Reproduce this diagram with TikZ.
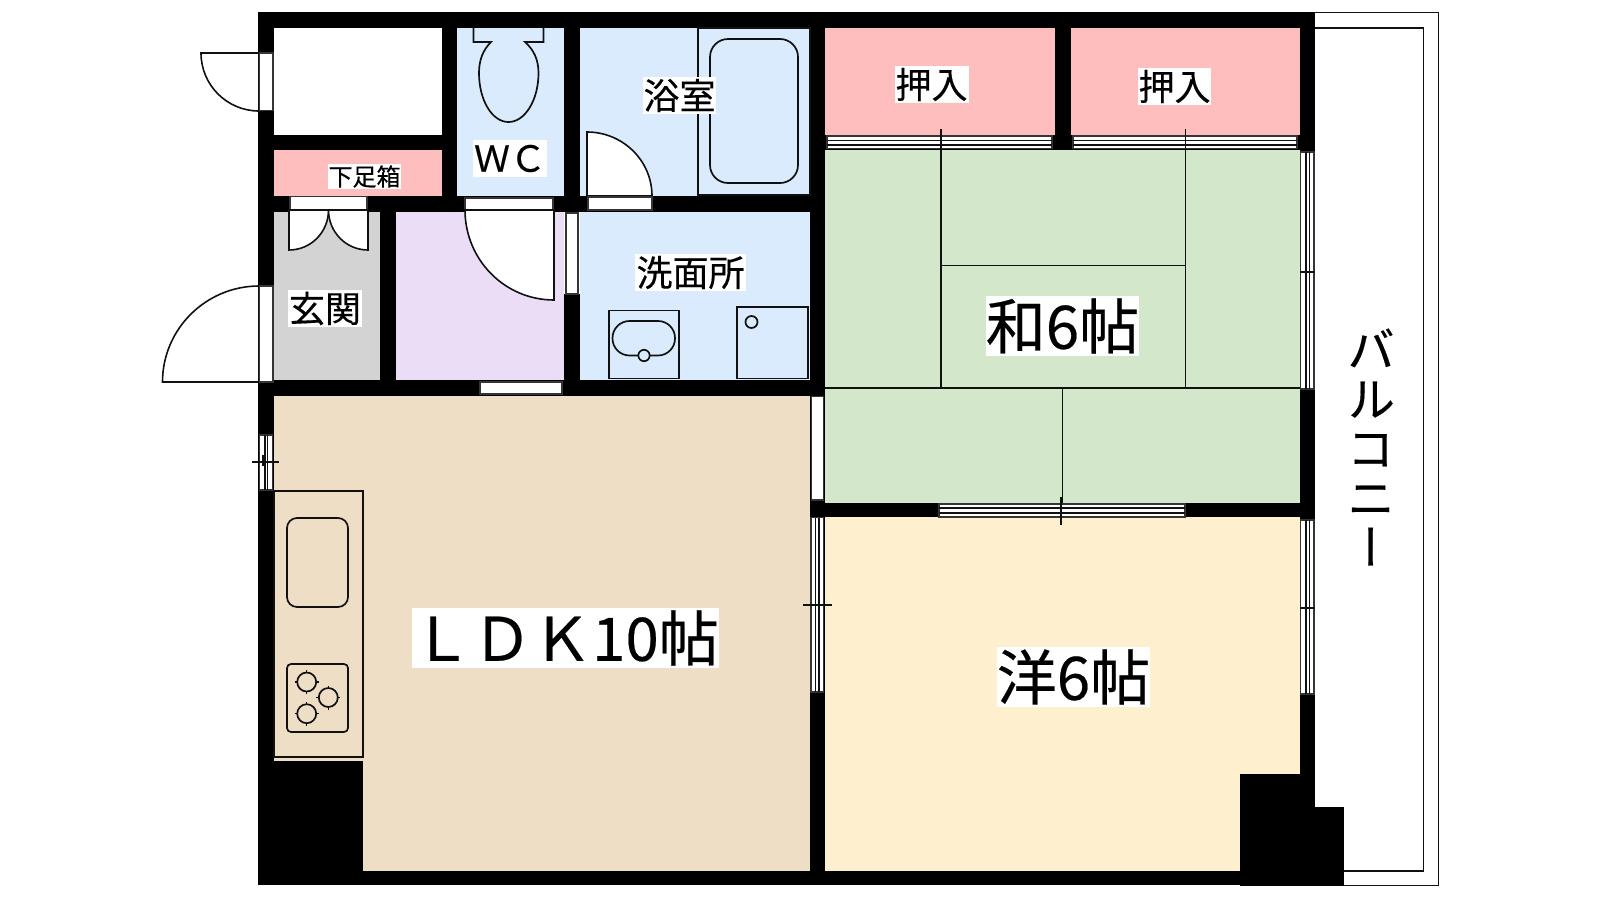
\documentclass[tikz,border=0pt]{standalone}
\usepackage{fontspec}
\setmainfont[FakeBold=0.35]{Noto Sans CJK JP}
\newfontfamily\jpv[RawFeature={+vert},FakeBold=0.35]{Noto Sans CJK JP}
\definecolor{cblue}{HTML}{DAEBFE}
\definecolor{cpink}{HTML}{FFBEBE}
\definecolor{cgreen}{HTML}{D3E8CB}
\definecolor{ccream}{HTML}{FEF0CF}
\definecolor{ctan}{HTML}{EEDEC6}
\definecolor{cpurple}{HTML}{ECDDF6}
\definecolor{cgray}{HTML}{D3D3D3}
\definecolor{cline}{HTML}{111111}
\tikzset{
  thin line/.style={draw=cline,line width=1.5pt},
  fixture/.style={draw=cline,line width=1.7pt},
  door/.style={draw=cline,fill=white,line width=1.6pt},
  winbox/.style={draw=cline!85!white,fill=white,line width=1.5pt},
  tatami/.style={draw=cline,line width=1.8pt},
  lab/.style={fill=white,inner sep=0pt,outer sep=0pt,text=black,align=center},
  labS/.style={lab,font=\fontsize{24}{25}\selectfont,minimum width=73pt,minimum height=25pt},
  labM/.style={lab,font=\fontsize{36}{37}\selectfont,minimum height=37pt},
  labL/.style={lab,font=\fontsize{60}{60}\selectfont,minimum height=60pt}
}
\begin{document}
\begin{tikzpicture}[x=1pt,y=-1pt]
\useasboundingbox (0,0) rectangle (1600,900);
\fill[white] (0,0) rectangle (1600,900);
% balcony
\draw[thin line] (1315,12.5) -- (1438.5,12.5) -- (1438.5,885.5) -- (1344,885.5);
\draw[thin line] (1315,28) -- (1423.5,28) -- (1423.5,871) -- (1344,871);
% walls
\fill[black] (258,12) rectangle (1315,885);
\fill[black] (1315,807) rectangle (1344,886);
% rooms
\fill[white] (274,28) rectangle (442,135);
\fill[cpink] (274,150) rectangle (442,196);
\fill[cblue] (457,28) rectangle (564,196);
\fill[cblue] (580,28) rectangle (810,196);
\fill[cpink] (825,28) rectangle (1055,135);
\fill[cpink] (1071,28) rectangle (1300,135);
\fill[cgreen] (825,150) rectangle (1300,503);
\fill[ccream] (825,517) rectangle (1300,871);
\fill[ctan] (274,395.5) rectangle (810,870.5);
\fill[cgray] (274,212) rectangle (380,380);
\fill[cpurple] (396,212) rectangle (564,380);
\fill[cblue] (580,212) rectangle (810,380);
% blocks over rooms
\fill[black] (258,761) rectangle (363,885);
\fill[black] (1240,774) rectangle (1344,886);
\fill[white] (1315,760) rectangle (1344,807);
% top entry door
\draw[door] (259,53) -- (201,53) .. controls (201,85) and (227,111) .. (259,111) -- cycle;
\draw[winbox] (259.5,53) rectangle (273,110.7);
% main entry door
\draw[door] (259,382) -- (162.5,382) .. controls (162.5,329) and (206,286) .. (259,286) -- cycle;
\draw[winbox] (259.5,286) rectangle (273,382);
% shoe closet doors
\draw[winbox] (290,196.5) rectangle (367,210);
\draw[door] (289,210) -- (289,250) .. controls (311,250) and (328.5,232) .. (328.5,210) -- cycle;
\draw[door] (368,210) -- (368,250) .. controls (346,250) and (328.5,232) .. (328.5,210) -- cycle;
% WC door
\draw[winbox] (465,198) rectangle (553,210);
\draw[door] (554,210) -- (554,300) .. controls (504.5,300) and (465,259.5) .. (465,210) -- cycle;
% bath door
\draw[door] (587,196) -- (587,132) .. controls (622.6,132) and (652,160.4) .. (652,196) -- cycle;
\draw[winbox] (588,197) rectangle (652,210);
% small windows
\fill[white] (564,212) rectangle (580,294);
\draw[winbox] (566,213) rectangle (578,294);
\draw[winbox] (480,382) rectangle (562,394);
\draw[winbox] (811.5,396.5) rectangle (823.5,500);
% left kitchen window
\draw[winbox] (259.5,435) rectangle (272.7,490);
\draw[thin line] (265,435) -- (265,490) (267.5,435) -- (267.5,490);
\draw[thin line] (252,462) -- (279,462) (263,455) -- (263,466) (267.5,458) -- (267.5,469);
% LDK - west rooms window
\draw[winbox] (811,517.5) rectangle (823.5,692);
\draw[thin line] (815.5,517.5) -- (815.5,692) (819,517.5) -- (819,692);
\draw[thin line] (803,605) -- (832,605) (815.7,597) -- (815.7,609) (819,601) -- (819,613);
% Washitsu / Yoshitsu window
\draw[winbox] (939,504) rectangle (1185,517);
\draw[thin line] (939,508) -- (1185,508) (939,513) -- (1185,513);
% closet windows
\draw[winbox] (827,136) rectangle (1052,148.5);
\draw[winbox] (1073,136) rectangle (1297,148.5);
\draw[thin line] (827,140.7) -- (1052,140.7) (827,145) -- (1052,145);
\draw[thin line] (1073,140.7) -- (1297,140.7) (1073,145) -- (1297,145);
% right windows
\fill[white] (1300,152) rectangle (1315,389);
\draw[winbox] (1300.5,152) rectangle (1314,389);
\draw[thin line] (1306,152) -- (1306,389) (1309.5,152) -- (1309.5,389);
\draw[thin line] (1300,272) -- (1315,272) (1306,264) -- (1306,276) (1309.5,268) -- (1309.5,279);
\fill[white] (1300,520) rectangle (1315,694);
\draw[winbox] (1300.5,520) rectangle (1314,694);
\draw[thin line] (1306,520) -- (1306,694) (1309.5,520) -- (1309.5,694);
\draw[thin line] (1300,608) -- (1315,608) (1305.5,600) -- (1305.5,612) (1309.5,604) -- (1309.5,615);
% tatami
\draw[tatami] (941,129) -- (941,388);
\draw[tatami] (1185.5,129) -- (1185.5,388);
\draw[tatami] (941,265.5) -- (1185.5,265.5);
\draw[tatami] (825,388) -- (1300,388);
\draw[tatami] (1062.5,388) -- (1062.5,503);
\draw[thin line] (1061,497) -- (1061,525) (1054,513) -- (1069,513);
\draw[thin line] (941,140.7) -- (947.5,140.7) (932,144.5) -- (941,144.5);
\draw[thin line] (1185.5,140.7) -- (1192,140.7) (1178,144.5) -- (1185.5,144.5);
% toilet
\draw[fixture,fill=cblue] (473.5,28) -- (473.5,42) -- (491,42) .. controls (483,50) and (479,60) .. (479,73) .. controls (479,100) and (492,122) .. (508.5,122) .. controls (525,122) and (538.5,100) .. (538.5,73) .. controls (538.5,60) and (534,50) .. (525,42) -- (543.5,42) -- (543.5,28);
% bath tub
\draw[fixture] (698,28) rectangle (810,195);
\draw[fixture,rounded corners=18pt] (710,39) rectangle (798,183);
% wash stand
\draw[fixture] (609,310.5) rectangle (679,378.5);
\draw[fixture,rounded corners=17pt] (612.5,321) rectangle (675,355.5);
\draw[fixture,fill=cblue] (644,355.5) circle[radius=5.7pt];
\draw[fixture] (737,307) rectangle (808,378.5);
\draw[fixture] (751.5,322) circle[radius=6pt];
% kitchen
\draw[fixture] (274,491) rectangle (363,757);
\draw[fixture,rounded corners=10pt] (287,518) rectangle (348,607);
\draw[fixture,rounded corners=4pt] (287,664) rectangle (348,732);
\foreach \bx/\by in {306.7/682,328.3/697.5,306.7/713.7}{
  \draw[fixture,line width=1.1pt] (\bx-12,\by) -- (\bx+12,\by) (\bx,\by-12) -- (\bx,\by+12);
  \draw[fixture,fill=ctan] (\bx,\by) circle[radius=9.5pt];
}
% labels
\node[labS] (shoe) at (364.5,176.5) {下足箱};
\node[labM,minimum width=74pt] (wc) at (510,158.5) {ＷＣ};
\node[labM,minimum width=73pt] (bath) at (679.5,95.5) {浴室};
\node[labM,minimum width=111pt] (wash) at (690.5,272.5) {洗面所};
\node[labM,minimum width=74pt] (genkan) at (325,308.5) {玄関};
\node[labM,minimum width=74pt] (osh1) at (931.5,84.5) {押入};
\node[labM,minimum width=73pt] (osh2) at (1174.5,86.5) {押入};
\node[labL,minimum width=153pt] (wa) at (1062.5,326) {和6帖};
\node[labL,minimum width=153pt] (yo) at (1073.5,677) {洋6帖};
\node[labL,minimum width=305pt] (ldk) at (565.5,638) {ＬＤＫ10帖};
\node[inner sep=0pt,align=center,text=black,font=\jpv\fontsize{48}{49.5}\selectfont] (balc) at (1371,447) {バ\\ル\\コ\\ニ\\ー};
\end{tikzpicture}
\end{document}
